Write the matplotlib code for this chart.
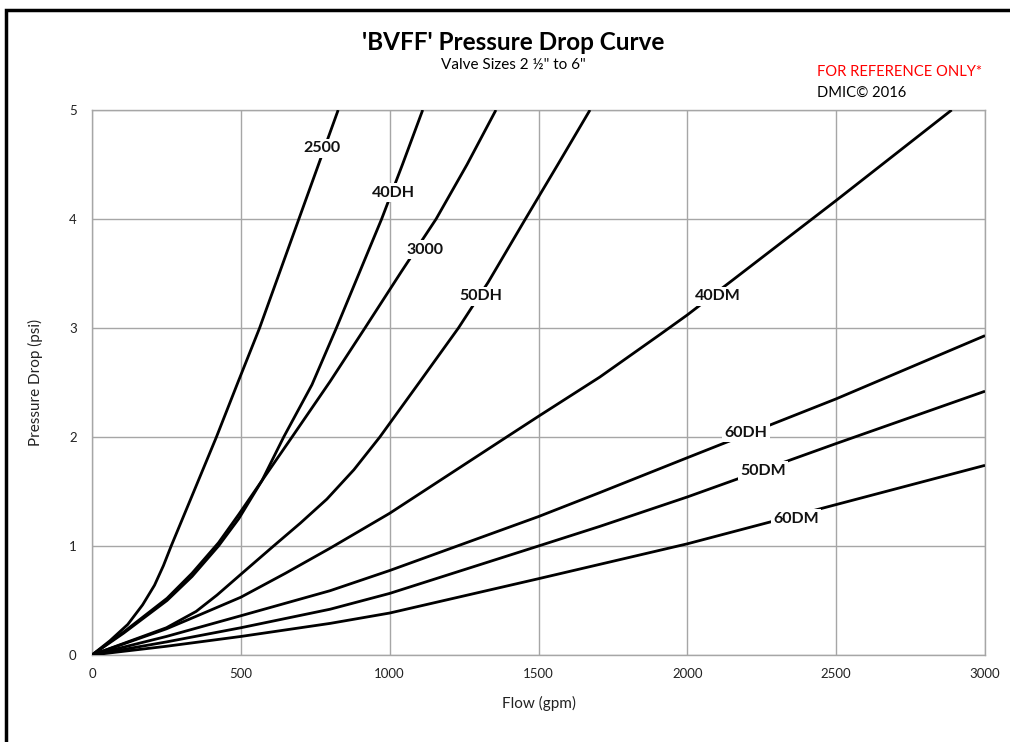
import matplotlib
matplotlib.use("Agg")
import matplotlib.pyplot as plt
from matplotlib.patches import Rectangle

plt.rcParams['font.family'] = ['Lato', 'DejaVu Sans']

# ---- data ----
flow_2500 = [0, 60, 120, 170, 210, 240, 266, 336, 418, 490, 563, 629, 695, 761, 827]
psi_2500 = [0, 0.13, 0.28, 0.46, 0.64, 0.82, 1.0, 1.46, 2.0, 2.5, 3.0, 3.5, 4.0, 4.5, 5.0]

flow_40dh = [0, 106, 252, 336, 425, 493, 571, 644, 739, 821, 897, 973, 1043, 1111]
psi_40dh = [0, 0.20, 0.50, 0.72, 1.0, 1.25, 1.6, 2.0, 2.48, 3.0, 3.5, 4.0, 4.5, 5.0]

flow_3000 = [0, 106, 252, 336, 425, 493, 571, 672, 800, 917, 1040, 1156, 1260, 1357]
psi_3000 = [0, 0.21, 0.52, 0.75, 1.03, 1.29, 1.6, 2.0, 2.51, 3.0, 3.52, 4.0, 4.5, 5.0]

flow_50dh = [0, 250, 350, 420, 500, 610, 700, 789, 880, 967, 1102, 1231, 1331, 1456, 1565, 1673]
psi_50dh = [0, 0.25, 0.40, 0.55, 0.74, 1.0, 1.21, 1.43, 1.70, 2.0, 2.51, 3.0, 3.42, 4.0, 4.5, 5.0]

flow_40dm = [0, 250, 350, 500, 650, 800, 1000, 1393, 1500, 1706, 1908, 2000, 2300, 2500, 2888]
psi_40dm = [0, 0.24, 0.355, 0.53, 0.75, 0.98, 1.30, 2.0, 2.19, 2.55, 2.94, 3.12, 3.75, 4.17, 5.0]

flow_60dh = [0, 250, 500, 800, 1000, 1500, 1706, 2000, 2500, 3000]
psi_60dh = [0, 0.17, 0.36, 0.59, 0.775, 1.27, 1.49, 1.81, 2.35, 2.93]

flow_50dm = [0, 250, 500, 800, 1000, 1500, 1706, 2000, 2500, 3000]
psi_50dm = [0, 0.12, 0.25, 0.42, 0.565, 1.0, 1.18, 1.45, 1.94, 2.42]

flow_60dm = [0, 250, 500, 800, 1000, 1500, 2000, 2500, 3000]
psi_60dm = [0, 0.08, 0.17, 0.29, 0.385, 0.70, 1.02, 1.38, 1.74]

series_names = ['2500', '40DH', '3000', '50DH', '40DM', '60DH', '50DM', '60DM']
series_flows = [flow_2500, flow_40dh, flow_3000, flow_50dh, flow_40dm, flow_60dh, flow_50dm, flow_60dm]
series_psis = [psi_2500, psi_40dh, psi_3000, psi_50dh, psi_40dm, psi_60dh, psi_50dm, psi_60dm]

# label anchor positions (flow, psi)
label_flow = [773, 1011, 1119, 1307, 2103, 2197, 2254, 2365]
label_psi = [4.65, 4.24, 3.72, 3.29, 3.29, 2.04, 1.69, 1.25]

x_ticks = [0, 500, 1000, 1500, 2000, 2500, 3000]
y_ticks = [0, 1, 2, 3, 4, 5]

# ---- figure ----
fig = plt.figure(figsize=(10.10, 7.42), dpi=100)
ax = fig.add_axes([92/1010, 87/742, 893/1010, 545/742])

grid_c = '#a6a6a6'
for x in x_ticks:
    ax.axvline(x, color=grid_c, lw=1.0, zorder=1)
for y in y_ticks:
    ax.axhline(y, color=grid_c, lw=1.0, zorder=1)

for f, p in zip(series_flows, series_psis):
    ax.plot(f, p, color='black', lw=2.0, zorder=3, solid_capstyle='butt',
            solid_joinstyle='round')

for name, lx, ly in zip(series_names, label_flow, label_psi):
    ax.text(lx, ly, name, ha='center', va='center', fontsize=11.5, fontweight='bold',
            color='#111111', zorder=5,
            bbox=dict(boxstyle='square,pad=0.15', fc='white', ec='none'))

ax.set_xlim(0, 3000)
ax.set_ylim(0, 5)
ax.set_xticks(x_ticks)
ax.set_yticks(y_ticks)
ax.tick_params(axis='both', length=0, labelsize=9.5, colors='#222222')
ax.tick_params(axis='y', pad=11)
ax.tick_params(axis='x', pad=9)
for s in ax.spines.values():
    s.set_color(grid_c)
    s.set_linewidth(1.0)

ax.set_xlabel('Flow (gpm)', fontsize=11, color='#222222', labelpad=12)
ax.set_ylabel('Pressure Drop (psi)', fontsize=11, color='#222222', labelpad=19)

fig.text(513/1010, 1 - 42/742, "'BVFF' Pressure Drop Curve", ha='center', va='center',
         fontsize=17.5, fontweight='bold', color='black')
fig.text(513/1010, 1 - 65/742, 'Valve Sizes 2 \u00bd" to 6"', ha='center', va='center',
         fontsize=11, color='black')
fig.text(817/1010, 1 - 72/742, 'FOR REFERENCE ONLY*', ha='left', va='center',
         fontsize=10.6, color='#ff0000')
fig.text(817/1010, 1 - 93/742, 'DMIC\u00a9 2016', ha='left', va='center',
         fontsize=10.6, color='black')

fig.add_artist(Rectangle((6/1010, -0.2), 1.5, 1 - 10/742 + 0.2, transform=fig.transFigure,
                         fill=False, ec='black', lw=2.5))

fig.savefig('out.png', dpi=100, facecolor='white')
